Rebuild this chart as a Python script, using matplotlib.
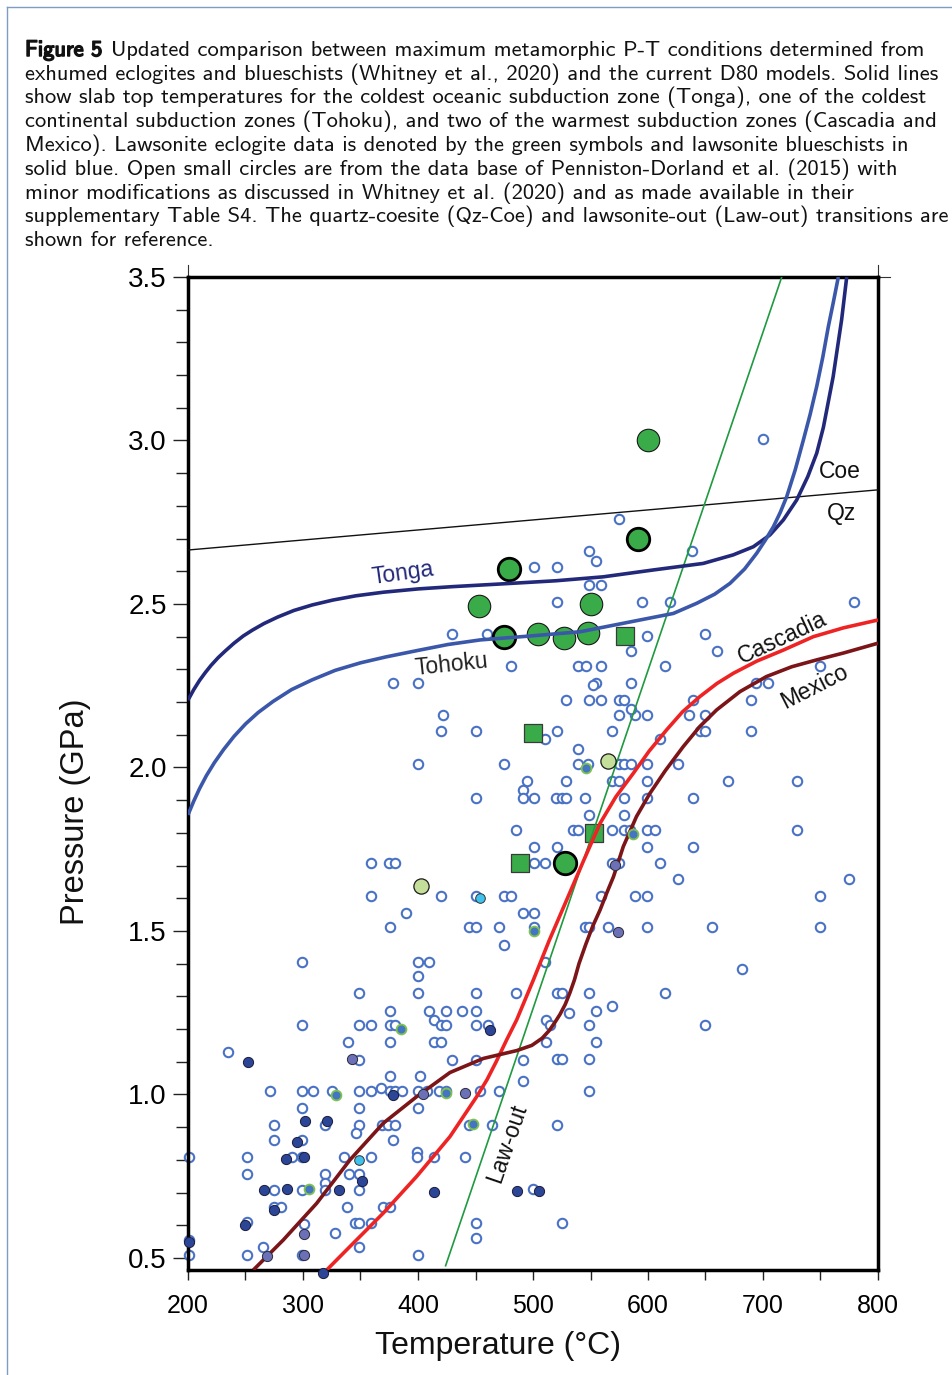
"""Recreation of Figure 5: slab-top P-T paths vs. exhumed eclogite/blueschist data."""
import numpy as np
import matplotlib
matplotlib.use("Agg")
import matplotlib.pyplot as plt
import matplotlib.patheffects as pe
from matplotlib import font_manager
from matplotlib.lines import Line2D

W, H = 953, 1375

# ---------------- data: temperature (C), pressure (GPa) ----------------
# open small circles (Penniston-Dorland et al. data base)
open_T_upper = [700, 575, 549, 555, 638, 501, 521, 549, 559, 521, 595, 619, 779,
                460, 430, 599, 650, 585, 660]
open_P_upper = [3.005, 2.76, 2.663, 2.632, 2.663, 2.612, 2.612, 2.558, 2.558, 2.505,
                2.505, 2.505, 2.505, 2.408, 2.408, 2.402, 2.408, 2.357, 2.357]

open_T_midleft = [481, 378, 400, 422, 420, 450, 510, 400, 475, 495,
                  491, 491, 501, 450, 485, 501, 501, 510, 359, 375,
                  380, 359, 420, 450, 475, 481, 390, 491, 501, 376,
                  444, 450, 470, 501, 475, 299, 400, 410, 510, 400,
                  349, 400, 450, 485]
open_P_midleft = [2.311, 2.259, 2.259, 2.161, 2.11, 2.11, 2.087, 2.012, 2.012, 1.96,
                  1.93, 1.908, 1.908, 1.908, 1.81, 1.758, 1.707, 1.707, 1.707, 1.707,
                  1.707, 1.608, 1.608, 1.608, 1.608, 1.608, 1.555, 1.555, 1.555, 1.511,
                  1.511, 1.511, 1.511, 1.511, 1.458, 1.406, 1.406, 1.406, 1.406, 1.361,
                  1.309, 1.309, 1.309, 1.309]

open_T_midright = [539, 546, 559, 615, 750, 555, 552, 585, 694, 704,
                   529, 549, 559, 575, 579, 639, 690, 575, 589, 599,
                   585, 636, 650, 521, 569, 645, 650, 690, 610, 539,
                   539, 548, 575, 579, 585, 599, 626, 529, 569, 575,
                   599, 670, 730, 520, 525, 529, 545, 579, 599, 639,
                   549, 579, 535, 539, 569, 579, 584, 599, 606, 730,
                   521, 599, 639, 569, 575, 610, 626, 775, 559, 589,
                   599, 750, 545, 549, 565, 599, 656, 750, 682, 521,
                   525, 549, 615]
open_P_midright = [2.311, 2.311, 2.311, 2.311, 2.311, 2.259, 2.251, 2.259, 2.259, 2.259,
                   2.206, 2.206, 2.206, 2.206, 2.206, 2.206, 2.206, 2.161, 2.161, 2.161,
                   2.178, 2.161, 2.161, 2.11, 2.11, 2.11, 2.11, 2.11, 2.087, 2.057,
                   2.012, 2.012, 2.012, 2.012, 2.012, 2.012, 2.012, 1.96, 1.96, 1.96,
                   1.96, 1.96, 1.96, 1.908, 1.908, 1.908, 1.908, 1.908, 1.908, 1.908,
                   1.855, 1.855, 1.81, 1.81, 1.81, 1.81, 1.81, 1.81, 1.81, 1.81,
                   1.758, 1.758, 1.758, 1.707, 1.707, 1.707, 1.659, 1.659, 1.608, 1.608,
                   1.608, 1.608, 1.511, 1.511, 1.511, 1.511, 1.511, 1.511, 1.384, 1.309,
                   1.309, 1.309, 1.309]

open_T_lower = [376, 410, 424, 438, 450, 531, 555, 569,
                299, 349, 359, 376, 380, 414, 420, 424, 450, 461, 511, 515, 549, 650,
                339, 376, 414, 420, 511, 555, 235,
                349, 430, 450, 491, 521, 525, 549, 376, 402, 491,
                271, 299, 309, 325, 349, 359, 368, 376, 380, 386, 400, 408, 418, 424,
                454, 470, 549,
                299, 349, 400,
                275, 319, 349, 369, 374, 380, 444, 464, 521,
                346, 275, 299, 378,
                201, 251, 290, 299, 336, 359, 399, 399, 414, 441,
                251, 319, 340, 349,
                275, 299, 319, 319, 349, 500,
                275, 281, 338, 370, 376,
                251, 301, 345, 349, 359, 450, 525,
                450, 328, 201,
                201, 251, 265, 299, 349, 400]
open_P_lower = [1.255, 1.255, 1.255, 1.255, 1.255, 1.248, 1.256, 1.27,
                1.212, 1.212, 1.212, 1.212, 1.212, 1.228, 1.212, 1.212, 1.212, 1.212,
                1.228, 1.212, 1.212, 1.212,
                1.16, 1.16, 1.16, 1.16, 1.16, 1.16, 1.131,
                1.106, 1.106, 1.106, 1.106, 1.108, 1.108, 1.108, 1.055, 1.055, 1.04,
                1.011, 1.011, 1.011, 1.011, 1.011, 1.011, 1.019, 1.011, 1.011, 1.011,
                1.011, 1.011, 1.011, 1.011, 1.011, 1.011, 1.011,
                0.958, 0.958, 0.958,
                0.905, 0.905, 0.905, 0.905, 0.905, 0.905, 0.905, 0.905, 0.905,
                0.881, 0.861, 0.861, 0.861,
                0.809, 0.809, 0.809, 0.809, 0.809, 0.809, 0.823, 0.809, 0.809, 0.809,
                0.756, 0.756, 0.756, 0.756,
                0.708, 0.708, 0.73, 0.708, 0.708, 0.712,
                0.657, 0.657, 0.657, 0.657, 0.657,
                0.609, 0.603, 0.606, 0.606, 0.606, 0.606, 0.606,
                0.561, 0.576, 0.555,
                0.508, 0.508, 0.532, 0.508, 0.532, 0.508]

# lawsonite eclogites (green symbols)
lwe_big_T = [600, 453, 550, 504, 527, 548]
lwe_big_P = [3.0, 2.495, 2.5, 2.408, 2.397, 2.412]
lwe_bold_T = [591, 479, 475, 528]
lwe_bold_P = [2.70, 2.607, 2.40, 1.709]
lwe_sq_T = [580, 500, 489, 553]
lwe_sq_P = [2.403, 2.105, 1.709, 1.80]
lwe_light_T = [403, 565]
lwe_light_P = [1.636, 2.02]

# lawsonite blueschists (solid blue symbols)
cyan_T = [454, 349]
cyan_P = [1.602, 0.80]
ring_T = [501, 546, 587, 385, 329, 424, 448, 305]
ring_P = [1.501, 1.997, 1.795, 1.20, 0.997, 1.004, 0.91, 0.71]
navy_T = [463, 252, 378, 302, 321, 295, 285, 301, 351, 266, 286, 331, 414, 275,
          250, 201, 317, 486, 505]
navy_P = [1.197, 1.099, 0.997, 0.919, 0.919, 0.856, 0.804, 0.809, 0.736, 0.708,
          0.71, 0.708, 0.702, 0.645, 0.601, 0.55, 0.453, 0.706, 0.706]
purple_T = [571, 574, 343, 404, 441, 301, 269, 301]
purple_P = [1.702, 1.497, 1.109, 1.0, 1.004, 0.573, 0.506, 0.508]

# slab-top P-T paths
tonga_T = [200, 205, 210, 215, 220, 226, 232, 240, 248, 256, 266, 278, 292, 308,
           326, 346, 370, 400, 430, 471, 520, 561, 604.6, 648, 674, 691.6, 706,
           717.7, 729.3, 739, 746.7, 752.5, 761, 768.4, 772.8]
tonga_P = [2.206, 2.238, 2.266, 2.29, 2.312, 2.335, 2.355, 2.38, 2.402, 2.42, 2.44,
           2.46, 2.48, 2.497, 2.512, 2.525, 2.536, 2.546, 2.553, 2.561, 2.571,
           2.583, 2.604, 2.624, 2.65, 2.675, 2.711, 2.757, 2.818, 2.89, 2.961,
           3.04, 3.195, 3.37, 3.5]
tohoku_T = [200, 205, 210, 216, 223, 231, 240, 250, 261, 274, 290, 308, 328, 350,
            372, 400, 426, 454, 497.4, 541, 593, 622, 642.3, 658, 671.3, 684,
            694.5, 702, 709, 715, 720.6, 728, 735, 741, 746.7, 752, 756.8, 761,
            765.5]
tohoku_P = [1.855, 1.897, 1.935, 1.975, 2.015, 2.055, 2.095, 2.133, 2.168, 2.202,
            2.238, 2.268, 2.297, 2.32, 2.338, 2.358, 2.376, 2.39, 2.402, 2.415,
            2.451, 2.471, 2.502, 2.53, 2.563, 2.607, 2.655, 2.695, 2.736, 2.78,
            2.828, 2.91, 3.0, 3.08, 3.165, 3.255, 3.348, 3.42, 3.5]
cascadia_T = [320.6, 340.9, 369.8, 398.8, 427.8, 451, 460, 468, 477.1, 485.8, 500.3,
              514, 529.3, 544, 558.3, 572, 587.2, 601, 616.2, 630, 645.2, 660,
              674.2, 694.5, 717.7, 743.8, 770, 800]
cascadia_P = [0.463, 0.535, 0.637, 0.749, 0.871, 0.993, 1.045, 1.1, 1.167, 1.228,
              1.35, 1.47, 1.595, 1.715, 1.829, 1.91, 1.982, 2.05, 2.115, 2.17,
              2.217, 2.257, 2.288, 2.325, 2.359, 2.40, 2.427, 2.451]
mexico_T = [256.8, 282.9, 311.9, 340.9, 369.8, 398.8, 427.8, 456.8, 485.8, 499,
            508, 514, 519, 523.5, 528, 532, 536, 540, 546, 552, 558.3, 564, 570,
            578.5, 590, 601.7, 615, 630.7, 645, 659.7, 680, 703, 725, 746.7, 770,
            800]
mexico_P = [0.463, 0.555, 0.667, 0.80, 0.912, 0.993, 1.067, 1.11, 1.134, 1.15,
            1.172, 1.195, 1.22, 1.245, 1.275, 1.31, 1.35, 1.40, 1.46, 1.515, 1.564,
            1.615, 1.666, 1.758, 1.85, 1.921, 1.99, 2.064, 2.125, 2.176, 2.232,
            2.278, 2.308, 2.329, 2.35, 2.38]

# reference reactions
qzcoe_T = [200, 800]
qzcoe_P = [2.665, 2.849]
lawout_T = [424, 716.3]
lawout_P = [0.476, 3.5]

caption_lines = [
    "Updated comparison between maximum metamorphic P-T conditions determined from",
    "exhumed eclogites and blueschists (Whitney et al., 2020) and the current D80 models. Solid lines",
    "show slab top temperatures for the coldest oceanic subduction zone (Tonga), one of the coldest",
    "continental subduction zones (Tohoku), and two of the warmest subduction zones (Cascadia and",
    "Mexico). Lawsonite eclogite data is denoted by the green symbols and lawsonite blueschists in",
    "solid blue. Open small circles are from the data base of Penniston-Dorland et al. (2015) with",
    "minor modifications as discussed in Whitney et al. (2020) and as made available in their",
    "supplementary Table S4. The quartz-coesite (Qz-Coe) and lawsonite-out (Law-out) transitions are",
    "shown for reference.",
]

# ---------------- fonts ----------------
names = {f.name for f in font_manager.fontManager.ttflist}
SANS = ["Liberation Sans", "DejaVu Sans"]
CAP = (["cmss10"] if "cmss10" in names else []) + ["DejaVu Sans"]
plt.rcParams["font.family"] = SANS

fig = plt.figure(figsize=(W / 100, H / 100), dpi=100)
renderer = fig.canvas.get_renderer()


def text_width(text, family, size):
    t = fig.text(0, 0, text, fontsize=size, family=family)
    w = t.get_window_extent(renderer).width
    t.remove()
    return w


# ---------------- caption ----------------
cap_size = 10 * (944 - 25) / text_width(caption_lines[1], CAP, 10)
bold_w = text_width("Figure 5", CAP, cap_size)
for i, line in enumerate(caption_lines):
    ybase = 56 + 23.75 * i
    x0 = 25
    if i == 0:
        fig.text(25 / W, 1 - ybase / H, "Figure 5", fontsize=cap_size, family=CAP,
                 va="baseline", ha="left", color="#111111",
                 path_effects=[pe.withStroke(linewidth=1.1, foreground="#111111")])
        x0 = 25 + bold_w + 9
    fig.text(x0 / W, 1 - ybase / H, line, fontsize=cap_size, family=CAP,
             va="baseline", ha="left", color="#111111")

# page border (top and left)
border = "#7f9cc4"
fig.add_artist(Line2D([7 / W, 1], [1 - 7 / H, 1 - 7 / H], color=border, lw=1.0))
fig.add_artist(Line2D([7 / W, 7 / W], [0, 1 - 7 / H], color=border, lw=1.0))

# ---------------- axes ----------------
ax = fig.add_axes([188 / W, 1 - 1270 / H, 690 / W, 993 / H])
ax.set_xlim(200, 800)
ax.set_ylim(0.463, 3.5)

open_T = open_T_upper + open_T_midleft + open_T_midright + open_T_lower
open_P = open_P_upper + open_P_midleft + open_P_midright + open_P_lower
ax.scatter(open_T, open_P, s=46, facecolor="white", edgecolor="#4a72c4",
           linewidth=1.5, zorder=2, clip_on=False)

green = "#3aab49"
ax.scatter(lwe_big_T, lwe_big_P, s=262, facecolor=green, edgecolor="#1a1a1a",
           linewidth=0.8, zorder=3)
ax.scatter(lwe_bold_T, lwe_bold_P, s=262, facecolor=green, edgecolor="black",
           linewidth=2.0, zorder=3)
ax.scatter(lwe_sq_T, lwe_sq_P, s=165, marker="s", facecolor=green,
           edgecolor="#3a3a3a", linewidth=0.9, zorder=3)

# reference lines and model paths
ax.plot(qzcoe_T, qzcoe_P, color="#111111", lw=1.0, zorder=4)
ax.plot(lawout_T, lawout_P, color="#1f9a40", lw=1.2, zorder=4)
curve_kw = dict(lw=2.6, zorder=4, solid_capstyle="butt", solid_joinstyle="round")
ax.plot(tonga_T, tonga_P, color="#23297a", **curve_kw)
ax.plot(tohoku_T, tohoku_P, color="#3a57aa", **curve_kw)
ax.plot(cascadia_T, cascadia_P, color="#ee2424", **curve_kw)
ax.plot(mexico_T, mexico_P, color="#7b1518", **curve_kw)

ax.scatter(lwe_light_T, lwe_light_P, s=120, facecolor="#c3df9a", edgecolor="#1a1a1a",
           linewidth=0.9, zorder=5)
ax.scatter(cyan_T, cyan_P, s=48, facecolor="#3fc2ee", edgecolor="#333333",
           linewidth=0.7, zorder=5)
ax.scatter(ring_T, ring_P, s=50, facecolor="#4474c4", edgecolor="#7dc24e",
           linewidth=1.3, zorder=5)
ax.scatter(navy_T, navy_P, s=54, facecolor="#2c4697", edgecolor="#1b1b3a",
           linewidth=0.7, zorder=5, clip_on=False)
ax.scatter(purple_T, purple_P, s=54, facecolor="#6c70b6", edgecolor="#2a2a3a",
           linewidth=0.7, zorder=5)

# curve / reaction labels
lab = dict(fontsize=16.5, ha="center", va="center", rotation_mode="anchor", zorder=6)
ax.text(387, 2.595, "Tonga", color="#23297a", rotation=8, **lab)
ax.text(428.7, 2.313, "Tohoku", color="#222222", rotation=6, **lab)
ax.text(767, 2.904, "Coe", color="#111111", **lab)
ax.text(768, 2.778, "Qz", color="#111111", **lab)
ax.text(716.5, 2.396, "Cascadia", color="#111111", rotation=25, **lab)
ax.text(745, 2.246, "Mexico", color="#111111", rotation=27, **lab)
ax.text(477.4, 0.849, "Law-out", color="#111111", rotation=71, **lab)

# ticks and frame
ax.set_xticks(np.arange(200, 801, 100))
ax.set_xticks(np.arange(250, 800, 100), minor=True)
ax.set_yticks(np.arange(0.5, 3.51, 0.5))
ax.set_yticks(np.arange(0.6, 3.5, 0.1), minor=True)
ax.set_yticklabels([f"{v:.1f}" for v in np.arange(0.5, 3.51, 0.5)])
ax.tick_params(axis="x", which="both", direction="out", length=7.5, width=1.0,
               labelsize=18, pad=10, color="#222222")
ax.tick_params(axis="y", which="major", direction="out", length=10.8, width=1.0,
               labelsize=20, pad=4.5, color="#222222")
ax.tick_params(axis="y", which="minor", direction="out", length=8.6, width=1.0,
               color="#222222")
for sp in ax.spines.values():
    sp.set_linewidth(2.5)
    sp.set_color("black")

# thin corner marks above the frame
for xa, ya in [([0, 0], [1, 1.012]), ([1, 1], [1, 1.012]), ([1, 1.017], [1, 1])]:
    ax.add_line(Line2D(xa, ya, transform=ax.transAxes, color="#333333", lw=0.8,
                       clip_on=False))

fig.text(76 / W, 1 - 812 / H, "Pressure (GPa)", rotation=90, fontsize=23.5,
         ha="center", va="center", color="#111111")
fig.text(498 / W, 1 - 1346 / H, "Temperature (\u00b0C)", fontsize=23,
         ha="center", va="center", color="#111111")

fig.savefig("out.png", dpi=100)
